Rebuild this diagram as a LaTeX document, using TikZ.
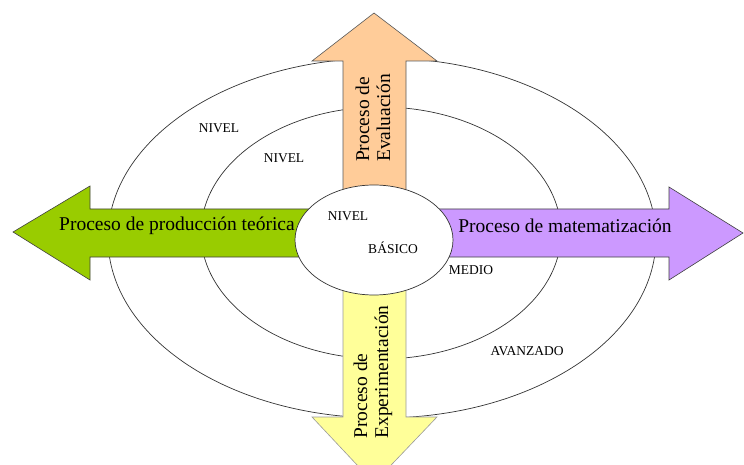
\documentclass[tikz,border=0pt]{standalone}
\usepackage{fontspec}
\setmainfont{Liberation Serif}

\definecolor{verde}{HTML}{99CC00}
\definecolor{lila}{HTML}{CC99FF}
\definecolor{durazno}{HTML}{FFCC99}
\definecolor{amarillo}{HTML}{FFFF99}

\begin{document}
\begin{tikzpicture}[x=1pt,y=-1pt,
    nivel/.style={draw=black!80, line width=0.7pt},
    flecha/.style={draw=#1, line width=0.6pt},
    proceso/.style={font=\fontsize{19.5}{21}\selectfont, inner sep=0pt},
    etiqueta/.style={font=\fontsize{13.5}{15}\selectfont, inner sep=0pt}]
  \clip (0,0) rectangle (744,465);

  % Niveles
  \draw[nivel] (382,238) ellipse [x radius=274pt, y radius=180pt];
  \draw[nivel] (381,233) ellipse [x radius=180pt, y radius=126pt];
  \node[etiqueta] (avanzado1) at (219,128) {NIVEL};
  \node[etiqueta] (medio1) at (284,158) {NIVEL};
  \node[etiqueta] (medio2) at (471,270) {MEDIO};
  \node[etiqueta] (avanzado2) at (527,351) {AVANZADO};

  % Procesos
  \fill[verde, flecha=black!75] (374,209) -- (90,209) -- (90,186) -- (13,232)
    -- (90,280) -- (90,257) -- (374,257) -- cycle;
  \fill[lila, flecha=black!75] (374,209) -- (669,209) -- (669,187) -- (743,233)
    -- (669,280) -- (669,257) -- (374,257) -- cycle;
  \fill[durazno, flecha=black!65] (343,240) -- (343,61) -- (312,61) -- (374,13)
    -- (437,61) -- (406,61) -- (406,240) -- cycle;
  \fill[amarillo, flecha=black!40] (343,240) -- (343,417) -- (312,417) -- (374,483)
    -- (437,417) -- (406,417) -- (406,240) -- cycle;

  \node[proceso] (produccion) at (177,226) {Proceso de producción teórica};
  \node[proceso] (matematizacion) at (565,226) {Proceso de matematización};
  \node[proceso, rotate=90, align=left] (evaluacion) at (373,118) {Proceso de\\Evaluación};
  \node[proceso, rotate=90, align=left] (experimentacion) at (373,372) {Proceso de\\Experimentación};

  % Nivel basico
  \draw[nivel, fill=white] (374,240) ellipse [x radius=79pt, y radius=55pt];
  \node[etiqueta] (basico1) at (348,216) {NIVEL};
  \node[etiqueta] (basico2) at (393,248) {BÁSICO};
\end{tikzpicture}
\end{document}
